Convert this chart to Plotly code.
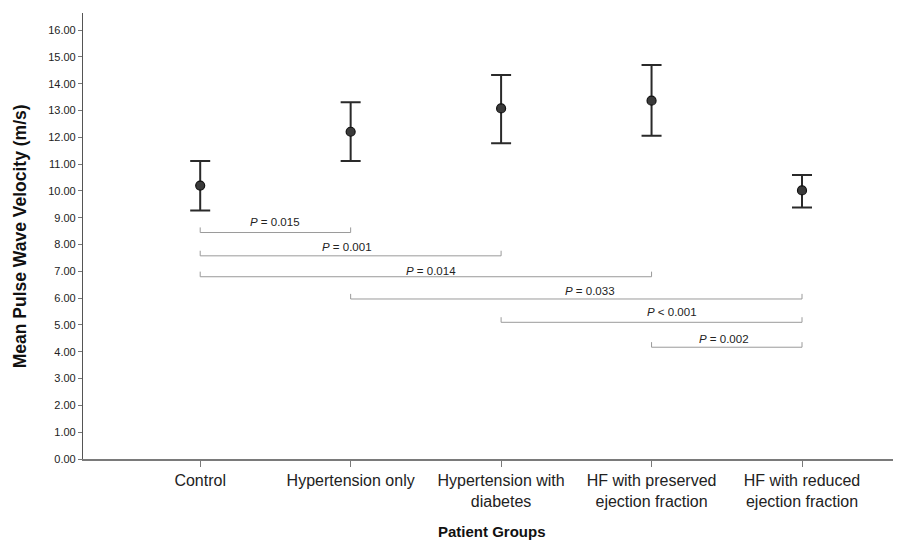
import plotly.graph_objects as go

# ---- data ----
groups = ["Control", "Hypertension only", "Hypertension with<br>diabetes",
          "HF with preserved<br>ejection fraction", "HF with reduced<br>ejection fraction"]
mean_pwv = [10.20, 12.21, 13.08, 13.37, 10.02]
ci_upper = [11.12, 13.31, 14.33, 14.70, 10.60]
ci_lower = [9.27, 11.12, 11.78, 12.06, 9.38]

y_ticks = [float(v) for v in range(0, 17)]
y_ticktext = [f"{v:.2f}" for v in y_ticks]

bracket_from = [0, 0, 0, 1, 2, 3]
bracket_to = [1, 2, 3, 4, 4, 4]
bracket_level = [8.45, 7.58, 6.80, 5.97, 5.10, 4.17]
p_labels = ["<i>P</i> = 0.015", "<i>P</i> = 0.001", "<i>P</i> = 0.014",
            "<i>P</i> = 0.033", "<i>P</i> &lt; 0.001", "<i>P</i> = 0.002"]

# ---- style ----
label_xshift = [0, -4, 5, 14, 20, -3]
label_yshift = [11, 9, 6, 8, 10, 8]
tick_up = 0.19
bracket_color = "#9a9a9a"
FONT = "Liberation Sans, Arial, sans-serif"

x_idx = list(range(len(groups)))
err_plus = [u - m for u, m in zip(ci_upper, mean_pwv)]
err_minus = [m - l for m, l in zip(mean_pwv, ci_lower)]

fig = go.Figure()

# brackets
for i, (a, b, lv) in enumerate(zip(bracket_from, bracket_to, bracket_level)):
    fig.add_trace(go.Scatter(
        x=[a, a, b, b], y=[lv + tick_up, lv, lv, lv + tick_up],
        mode="lines", line=dict(color=bracket_color, width=1),
        hoverinfo="skip", showlegend=False))
    fig.add_annotation(x=(a + b) / 2, y=lv, text=p_labels[i], showarrow=False,
                       xanchor="center", yanchor="middle",
                       xshift=label_xshift[i], yshift=label_yshift[i],
                       font=dict(family=FONT, size=11.5, color="#222"))

fig.add_trace(go.Scatter(
    x=x_idx, y=mean_pwv, mode="markers",
    marker=dict(size=9, color="#3a3a3a", line=dict(color="#111", width=1.2)),
    error_y=dict(type="data", symmetric=False, array=err_plus, arrayminus=err_minus,
                 color="#2a2a2a", thickness=2, width=10),
    showlegend=False))

# page body has an 8px default margin; compensate so the picture lands on target pixels
OFF = 8
L, R, T, B = 82.7 - OFF, 0, 13 - OFF, 80.5
W, H = 901 - OFF, 540 - OFF
pw = W - L - R
ph = H - T - B

fig.update_layout(
    width=W, height=H,
    margin=dict(l=L, r=R, t=T, b=B, pad=0),
    paper_bgcolor="white", plot_bgcolor="white",
    font=dict(family=FONT, color="#222"),
    xaxis=dict(range=[-0.779, 4.658], tickmode="array", tickvals=x_idx, ticktext=groups,
               showgrid=False, zeroline=False, showline=True, linecolor="#7a7a7a", linewidth=1.5,
               ticks="outside", ticklen=6, tickcolor="#7a7a7a", tickwidth=1,
               tickfont=dict(size=16, family=FONT, color="#222")),
    yaxis=dict(range=[0, 16.64], tickmode="array", tickvals=y_ticks, ticktext=y_ticktext,
               showgrid=False, zeroline=False, showline=True, linecolor="#555", linewidth=1.2,
               ticks="outside", ticklen=4, tickcolor="#777", tickwidth=1,
               tickfont=dict(size=11, family=FONT, color="#222")),
)

fig.add_annotation(xref="paper", yref="paper", x=(20 - OFF - L) / pw, y=0.5,
                   text="<b>Mean Pulse Wave Velocity (m/s)</b>", showarrow=False,
                   textangle=-90, xanchor="center", yanchor="middle",
                   font=dict(family=FONT, size=17.5, color="#111"))
fig.add_annotation(xref="paper", yref="paper", x=(491.5 - OFF - L) / pw,
                   y=(T + ph - (532 - OFF)) / ph,
                   text="<b>Patient Groups</b>", showarrow=False,
                   xanchor="center", yanchor="middle",
                   font=dict(family=FONT, size=15, color="#111"))

fig.write_html("out.html")
